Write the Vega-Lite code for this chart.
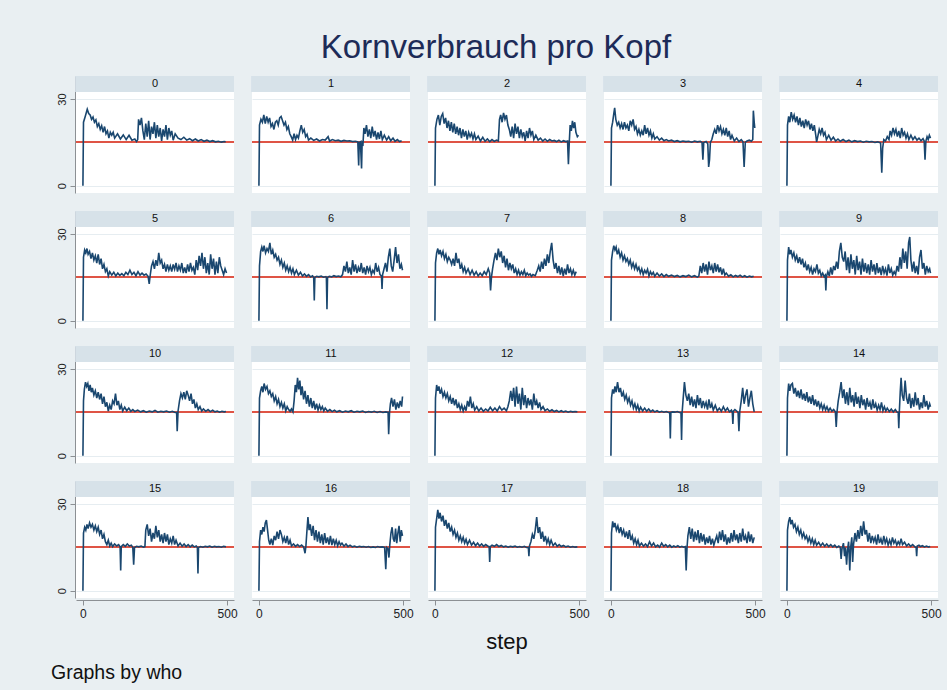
{
"$schema": "https://vega.github.io/schema/vega-lite/v6.json",
"background": "#e9eff2",
"padding": {"left": 50, "top": 32, "right": 5, "bottom": 8},
"title": {"text": "Kornverbrauch pro Kopf", "fontSize": 33, "font": "Liberation Sans", "fontWeight": "normal", "color": "#1d2b58", "anchor": "middle", "offset": 11},
"config": {"view": {"fill": "white", "stroke": null}, "font": "Liberation Sans", "header": {"labels": false, "labelPadding": 0, "labelFontSize": 0}},
"vconcat": [{
"title": {"text": "Graphs by who", "orient": "bottom", "anchor": "start", "fontSize": 19.5, "fontWeight": "normal", "color": "#111111", "offset": 11, "dx": -5},
"data": {"values": [
{"w":0,"s":0,"v":0},{"w":0,"s":2,"v":22},{"w":0,"s":8,"v":24},{"w":0,"s":15,"v":26.5},{"w":0,"s":20,"v":25},{"w":0,"s":25,"v":24.5},{"w":0,"s":30,"v":23},{"w":0,"s":35,"v":23.8},{"w":0,"s":40,"v":22},{"w":0,"s":45,"v":22.8},{"w":0,"s":50,"v":20.5},{"w":0,"s":55,"v":21.5},{"w":0,"s":60,"v":19.5},{"w":0,"s":65,"v":20.8},{"w":0,"s":70,"v":18.5},{"w":0,"s":75,"v":20.5},{"w":0,"s":80,"v":18},{"w":0,"s":85,"v":19},{"w":0,"s":90,"v":16.5},{"w":0,"s":95,"v":18.5},{"w":0,"s":100,"v":17.5},{"w":0,"s":105,"v":18.5},{"w":0,"s":110,"v":16.5},{"w":0,"s":120,"v":18},{"w":0,"s":130,"v":16.2},{"w":0,"s":140,"v":17.6},{"w":0,"s":150,"v":16},{"w":0,"s":160,"v":17.5},{"w":0,"s":170,"v":15.8},{"w":0,"s":180,"v":16.2},{"w":0,"s":186,"v":15.3},{"w":0,"s":190,"v":16},{"w":0,"s":193,"v":23},{"w":0,"s":198,"v":21},{"w":0,"s":203,"v":23.5},{"w":0,"s":208,"v":19},{"w":0,"s":213,"v":16},{"w":0,"s":218,"v":21.5},{"w":0,"s":223,"v":17},{"w":0,"s":228,"v":22.5},{"w":0,"s":233,"v":16},{"w":0,"s":238,"v":20.5},{"w":0,"s":243,"v":18},{"w":0,"s":248,"v":22},{"w":0,"s":253,"v":16.5},{"w":0,"s":258,"v":21},{"w":0,"s":263,"v":17},{"w":0,"s":268,"v":20},{"w":0,"s":273,"v":15.5},{"w":0,"s":278,"v":19.5},{"w":0,"s":283,"v":17},{"w":0,"s":288,"v":21},{"w":0,"s":293,"v":16},{"w":0,"s":298,"v":20},{"w":0,"s":303,"v":17.5},{"w":0,"s":308,"v":19},{"w":0,"s":313,"v":15.8},{"w":0,"s":320,"v":18},{"w":0,"s":330,"v":16.5},{"w":0,"s":340,"v":16},{"w":0,"s":350,"v":16.8},{"w":0,"s":360,"v":15.8},{"w":0,"s":370,"v":16.3},{"w":0,"s":380,"v":15.6},{"w":0,"s":390,"v":16.2},{"w":0,"s":400,"v":15.5},{"w":0,"s":410,"v":16},{"w":0,"s":420,"v":15.4},{"w":0,"s":430,"v":15.8},{"w":0,"s":440,"v":15.3},{"w":0,"s":450,"v":15.6},{"w":0,"s":460,"v":15.2},{"w":0,"s":470,"v":15.4},{"w":0,"s":480,"v":15.1},{"w":0,"s":490,"v":15.3},{"w":0,"s":495,"v":15.2},
{"w":1,"s":0,"v":0},{"w":1,"s":2,"v":21},{"w":1,"s":7,"v":23},{"w":1,"s":12,"v":22},{"w":1,"s":17,"v":24.5},{"w":1,"s":22,"v":21.5},{"w":1,"s":27,"v":24},{"w":1,"s":32,"v":22},{"w":1,"s":37,"v":23.5},{"w":1,"s":42,"v":20.5},{"w":1,"s":47,"v":21.5},{"w":1,"s":52,"v":19.5},{"w":1,"s":57,"v":22},{"w":1,"s":62,"v":22.5},{"w":1,"s":67,"v":21},{"w":1,"s":72,"v":23.5},{"w":1,"s":77,"v":24},{"w":1,"s":82,"v":22.5},{"w":1,"s":87,"v":21},{"w":1,"s":92,"v":22},{"w":1,"s":97,"v":19.5},{"w":1,"s":102,"v":20.5},{"w":1,"s":107,"v":18},{"w":1,"s":112,"v":17},{"w":1,"s":117,"v":15.8},{"w":1,"s":122,"v":18},{"w":1,"s":127,"v":16},{"w":1,"s":132,"v":17.5},{"w":1,"s":137,"v":16.5},{"w":1,"s":142,"v":19},{"w":1,"s":147,"v":21},{"w":1,"s":152,"v":18.5},{"w":1,"s":157,"v":19.5},{"w":1,"s":162,"v":17},{"w":1,"s":167,"v":17.8},{"w":1,"s":172,"v":15.8},{"w":1,"s":180,"v":16.5},{"w":1,"s":190,"v":15.7},{"w":1,"s":200,"v":16.2},{"w":1,"s":210,"v":15.5},{"w":1,"s":220,"v":16},{"w":1,"s":230,"v":15.8},{"w":1,"s":240,"v":17},{"w":1,"s":245,"v":15.5},{"w":1,"s":255,"v":16},{"w":1,"s":265,"v":15.6},{"w":1,"s":275,"v":15.8},{"w":1,"s":285,"v":15.4},{"w":1,"s":295,"v":15.7},{"w":1,"s":305,"v":15.5},{"w":1,"s":315,"v":15.6},{"w":1,"s":325,"v":15.3},{"w":1,"s":335,"v":15.4},{"w":1,"s":343,"v":15.2},{"w":1,"s":346,"v":7},{"w":1,"s":348,"v":15},{"w":1,"s":352,"v":15.2},{"w":1,"s":356,"v":6},{"w":1,"s":358,"v":15},{"w":1,"s":361,"v":14.5},{"w":1,"s":364,"v":20},{"w":1,"s":368,"v":18},{"w":1,"s":373,"v":21},{"w":1,"s":378,"v":17},{"w":1,"s":383,"v":19.5},{"w":1,"s":388,"v":16.5},{"w":1,"s":393,"v":20.5},{"w":1,"s":398,"v":17},{"w":1,"s":403,"v":19},{"w":1,"s":408,"v":16},{"w":1,"s":413,"v":18.5},{"w":1,"s":418,"v":16.2},{"w":1,"s":423,"v":19},{"w":1,"s":428,"v":16},{"w":1,"s":435,"v":17.5},{"w":1,"s":443,"v":15.8},{"w":1,"s":450,"v":17},{"w":1,"s":457,"v":15.6},{"w":1,"s":465,"v":16.5},{"w":1,"s":472,"v":15.4},{"w":1,"s":480,"v":16},{"w":1,"s":488,"v":15.3},{"w":1,"s":495,"v":15.6},
{"w":2,"s":0,"v":0},{"w":2,"s":2,"v":20},{"w":2,"s":7,"v":23},{"w":2,"s":12,"v":24.5},{"w":2,"s":17,"v":21},{"w":2,"s":22,"v":24},{"w":2,"s":27,"v":25},{"w":2,"s":32,"v":21.5},{"w":2,"s":37,"v":23.5},{"w":2,"s":42,"v":20},{"w":2,"s":47,"v":22.5},{"w":2,"s":52,"v":19},{"w":2,"s":57,"v":22},{"w":2,"s":62,"v":18.5},{"w":2,"s":67,"v":21.5},{"w":2,"s":72,"v":18},{"w":2,"s":77,"v":20.5},{"w":2,"s":82,"v":17.5},{"w":2,"s":87,"v":20},{"w":2,"s":92,"v":16.5},{"w":2,"s":97,"v":19.5},{"w":2,"s":102,"v":17},{"w":2,"s":107,"v":19},{"w":2,"s":112,"v":16},{"w":2,"s":117,"v":18.5},{"w":2,"s":122,"v":17},{"w":2,"s":127,"v":18.2},{"w":2,"s":132,"v":16.2},{"w":2,"s":137,"v":18},{"w":2,"s":142,"v":16},{"w":2,"s":150,"v":17.2},{"w":2,"s":158,"v":15.5},{"w":2,"s":166,"v":16.8},{"w":2,"s":174,"v":15.4},{"w":2,"s":182,"v":16.2},{"w":2,"s":190,"v":15.3},{"w":2,"s":198,"v":16},{"w":2,"s":206,"v":15.4},{"w":2,"s":214,"v":15.8},{"w":2,"s":220,"v":15.5},{"w":2,"s":224,"v":23},{"w":2,"s":228,"v":24.5},{"w":2,"s":233,"v":22},{"w":2,"s":238,"v":25.2},{"w":2,"s":243,"v":23},{"w":2,"s":248,"v":24.5},{"w":2,"s":253,"v":21},{"w":2,"s":258,"v":19.5},{"w":2,"s":263,"v":17},{"w":2,"s":268,"v":20.5},{"w":2,"s":273,"v":16.5},{"w":2,"s":278,"v":21.5},{"w":2,"s":283,"v":18},{"w":2,"s":288,"v":20.5},{"w":2,"s":293,"v":16.5},{"w":2,"s":298,"v":19.5},{"w":2,"s":303,"v":17},{"w":2,"s":308,"v":18.5},{"w":2,"s":313,"v":15.5},{"w":2,"s":318,"v":19},{"w":2,"s":323,"v":16.5},{"w":2,"s":328,"v":20},{"w":2,"s":333,"v":17.5},{"w":2,"s":338,"v":19},{"w":2,"s":343,"v":16},{"w":2,"s":350,"v":17.5},{"w":2,"s":358,"v":15.8},{"w":2,"s":366,"v":16.5},{"w":2,"s":374,"v":15.5},{"w":2,"s":382,"v":16.2},{"w":2,"s":390,"v":15.4},{"w":2,"s":398,"v":16},{"w":2,"s":406,"v":15.5},{"w":2,"s":414,"v":15.7},{"w":2,"s":422,"v":15.3},{"w":2,"s":430,"v":15.8},{"w":2,"s":438,"v":15.2},{"w":2,"s":446,"v":15.6},{"w":2,"s":454,"v":15.3},{"w":2,"s":460,"v":15.5},{"w":2,"s":463,"v":7.5},{"w":2,"s":466,"v":15},{"w":2,"s":469,"v":21},{"w":2,"s":473,"v":19},{"w":2,"s":477,"v":22.5},{"w":2,"s":481,"v":20},{"w":2,"s":485,"v":22},{"w":2,"s":489,"v":18.5},{"w":2,"s":494,"v":17},{"w":2,"s":498,"v":17.5},
{"w":3,"s":0,"v":0},{"w":3,"s":2,"v":20},{"w":3,"s":6,"v":22},{"w":3,"s":10,"v":25},{"w":3,"s":13,"v":27},{"w":3,"s":17,"v":23},{"w":3,"s":22,"v":21},{"w":3,"s":27,"v":22},{"w":3,"s":32,"v":20},{"w":3,"s":37,"v":21.5},{"w":3,"s":42,"v":19.5},{"w":3,"s":47,"v":22},{"w":3,"s":52,"v":20},{"w":3,"s":57,"v":21},{"w":3,"s":62,"v":19},{"w":3,"s":67,"v":22.5},{"w":3,"s":72,"v":21},{"w":3,"s":77,"v":23},{"w":3,"s":82,"v":19.5},{"w":3,"s":87,"v":20.5},{"w":3,"s":92,"v":18},{"w":3,"s":97,"v":19.5},{"w":3,"s":102,"v":17.5},{"w":3,"s":107,"v":19},{"w":3,"s":112,"v":17.5},{"w":3,"s":117,"v":21},{"w":3,"s":122,"v":18},{"w":3,"s":127,"v":20},{"w":3,"s":132,"v":17.5},{"w":3,"s":137,"v":19},{"w":3,"s":142,"v":16.5},{"w":3,"s":147,"v":18},{"w":3,"s":152,"v":16.2},{"w":3,"s":160,"v":17},{"w":3,"s":168,"v":15.8},{"w":3,"s":176,"v":16.5},{"w":3,"s":184,"v":15.6},{"w":3,"s":192,"v":16},{"w":3,"s":200,"v":15.5},{"w":3,"s":210,"v":15.8},{"w":3,"s":220,"v":15.3},{"w":3,"s":230,"v":15.6},{"w":3,"s":240,"v":15.2},{"w":3,"s":250,"v":15.5},{"w":3,"s":260,"v":15.3},{"w":3,"s":270,"v":15.4},{"w":3,"s":280,"v":15.1},{"w":3,"s":290,"v":15.5},{"w":3,"s":300,"v":15.2},{"w":3,"s":310,"v":15.4},{"w":3,"s":316,"v":15},{"w":3,"s":319,"v":9},{"w":3,"s":322,"v":15},{"w":3,"s":330,"v":15.3},{"w":3,"s":336,"v":14.5},{"w":3,"s":339,"v":6.5},{"w":3,"s":342,"v":9},{"w":3,"s":345,"v":15},{"w":3,"s":350,"v":16},{"w":3,"s":355,"v":18},{"w":3,"s":360,"v":19.5},{"w":3,"s":365,"v":18},{"w":3,"s":370,"v":21},{"w":3,"s":375,"v":19},{"w":3,"s":380,"v":20.5},{"w":3,"s":385,"v":18},{"w":3,"s":390,"v":19.5},{"w":3,"s":395,"v":17.5},{"w":3,"s":400,"v":20},{"w":3,"s":405,"v":17},{"w":3,"s":410,"v":19},{"w":3,"s":415,"v":16},{"w":3,"s":420,"v":17.5},{"w":3,"s":428,"v":15.5},{"w":3,"s":436,"v":16.5},{"w":3,"s":444,"v":15.3},{"w":3,"s":452,"v":16},{"w":3,"s":458,"v":15.2},{"w":3,"s":462,"v":6.5},{"w":3,"s":466,"v":15},{"w":3,"s":472,"v":15.5},{"w":3,"s":480,"v":15.8},{"w":3,"s":487,"v":15.4},{"w":3,"s":492,"v":16},{"w":3,"s":494,"v":26},{"w":3,"s":497,"v":22},{"w":3,"s":499,"v":20},
{"w":4,"s":0,"v":0},{"w":4,"s":2,"v":21},{"w":4,"s":6,"v":24},{"w":4,"s":10,"v":22},{"w":4,"s":15,"v":25.5},{"w":4,"s":20,"v":23},{"w":4,"s":25,"v":24.5},{"w":4,"s":30,"v":22},{"w":4,"s":35,"v":24},{"w":4,"s":40,"v":21},{"w":4,"s":45,"v":23.5},{"w":4,"s":50,"v":20.5},{"w":4,"s":55,"v":22.5},{"w":4,"s":60,"v":20},{"w":4,"s":65,"v":23},{"w":4,"s":70,"v":21},{"w":4,"s":75,"v":22.5},{"w":4,"s":80,"v":19.5},{"w":4,"s":85,"v":21.5},{"w":4,"s":90,"v":19},{"w":4,"s":95,"v":21},{"w":4,"s":100,"v":17.5},{"w":4,"s":103,"v":15.2},{"w":4,"s":107,"v":17},{"w":4,"s":112,"v":19.5},{"w":4,"s":117,"v":18},{"w":4,"s":122,"v":20},{"w":4,"s":127,"v":17.5},{"w":4,"s":132,"v":18.5},{"w":4,"s":137,"v":16},{"w":4,"s":145,"v":17.5},{"w":4,"s":153,"v":15.8},{"w":4,"s":161,"v":16.8},{"w":4,"s":169,"v":15.5},{"w":4,"s":177,"v":16.2},{"w":4,"s":185,"v":15.4},{"w":4,"s":195,"v":16},{"w":4,"s":205,"v":15.3},{"w":4,"s":215,"v":15.8},{"w":4,"s":225,"v":15.2},{"w":4,"s":235,"v":15.6},{"w":4,"s":245,"v":15.3},{"w":4,"s":255,"v":15.5},{"w":4,"s":265,"v":15.1},{"w":4,"s":275,"v":15.4},{"w":4,"s":285,"v":15.2},{"w":4,"s":295,"v":15.3},{"w":4,"s":305,"v":15},{"w":4,"s":315,"v":15.2},{"w":4,"s":325,"v":14.8},{"w":4,"s":329,"v":4.5},{"w":4,"s":332,"v":13},{"w":4,"s":336,"v":16},{"w":4,"s":342,"v":15.5},{"w":4,"s":348,"v":17},{"w":4,"s":354,"v":16},{"w":4,"s":358,"v":19},{"w":4,"s":363,"v":17.5},{"w":4,"s":368,"v":20},{"w":4,"s":373,"v":18},{"w":4,"s":378,"v":19.5},{"w":4,"s":383,"v":17},{"w":4,"s":388,"v":19},{"w":4,"s":393,"v":16.5},{"w":4,"s":398,"v":20},{"w":4,"s":403,"v":17.5},{"w":4,"s":408,"v":18.5},{"w":4,"s":413,"v":16.5},{"w":4,"s":418,"v":18},{"w":4,"s":423,"v":16},{"w":4,"s":430,"v":17.5},{"w":4,"s":437,"v":16},{"w":4,"s":444,"v":17},{"w":4,"s":451,"v":15.8},{"w":4,"s":458,"v":16.5},{"w":4,"s":465,"v":15.6},{"w":4,"s":472,"v":16.3},{"w":4,"s":476,"v":15.5},{"w":4,"s":479,"v":9},{"w":4,"s":482,"v":15.5},{"w":4,"s":486,"v":17},{"w":4,"s":490,"v":16},{"w":4,"s":494,"v":17.5},{"w":4,"s":498,"v":16.5},
{"w":5,"s":0,"v":0},{"w":5,"s":2,"v":22},{"w":5,"s":6,"v":24.5},{"w":5,"s":10,"v":23.5},{"w":5,"s":14,"v":25},{"w":5,"s":18,"v":23},{"w":5,"s":23,"v":24},{"w":5,"s":28,"v":21.5},{"w":5,"s":33,"v":23.5},{"w":5,"s":38,"v":21},{"w":5,"s":43,"v":22.5},{"w":5,"s":48,"v":20},{"w":5,"s":53,"v":23},{"w":5,"s":58,"v":19.5},{"w":5,"s":63,"v":21.5},{"w":5,"s":68,"v":18},{"w":5,"s":73,"v":19.5},{"w":5,"s":78,"v":17},{"w":5,"s":83,"v":18},{"w":5,"s":88,"v":15.5},{"w":5,"s":93,"v":17},{"w":5,"s":100,"v":15.8},{"w":5,"s":107,"v":16.8},{"w":5,"s":114,"v":15.5},{"w":5,"s":121,"v":16.5},{"w":5,"s":128,"v":15.7},{"w":5,"s":135,"v":16.3},{"w":5,"s":142,"v":15.6},{"w":5,"s":149,"v":16.8},{"w":5,"s":156,"v":16},{"w":5,"s":163,"v":17.5},{"w":5,"s":170,"v":16},{"w":5,"s":177,"v":16.8},{"w":5,"s":184,"v":15.6},{"w":5,"s":191,"v":17},{"w":5,"s":198,"v":15.8},{"w":5,"s":205,"v":16.5},{"w":5,"s":212,"v":15.8},{"w":5,"s":219,"v":16.2},{"w":5,"s":226,"v":15.4},{"w":5,"s":230,"v":12.8},{"w":5,"s":233,"v":15.5},{"w":5,"s":238,"v":19},{"w":5,"s":243,"v":20.5},{"w":5,"s":248,"v":18},{"w":5,"s":253,"v":21},{"w":5,"s":258,"v":19},{"w":5,"s":263,"v":23.5},{"w":5,"s":268,"v":20},{"w":5,"s":273,"v":21},{"w":5,"s":278,"v":18},{"w":5,"s":283,"v":19.5},{"w":5,"s":288,"v":17},{"w":5,"s":293,"v":19.5},{"w":5,"s":298,"v":17.5},{"w":5,"s":303,"v":19},{"w":5,"s":308,"v":17},{"w":5,"s":313,"v":19.5},{"w":5,"s":318,"v":17.8},{"w":5,"s":323,"v":20},{"w":5,"s":328,"v":17},{"w":5,"s":333,"v":19},{"w":5,"s":338,"v":17.5},{"w":5,"s":343,"v":20},{"w":5,"s":348,"v":16.5},{"w":5,"s":353,"v":18.5},{"w":5,"s":358,"v":16.5},{"w":5,"s":363,"v":19.5},{"w":5,"s":368,"v":17},{"w":5,"s":373,"v":20},{"w":5,"s":378,"v":17.5},{"w":5,"s":383,"v":18.5},{"w":5,"s":388,"v":16},{"w":5,"s":393,"v":21},{"w":5,"s":398,"v":17.5},{"w":5,"s":403,"v":22.5},{"w":5,"s":408,"v":19},{"w":5,"s":413,"v":23.5},{"w":5,"s":418,"v":18},{"w":5,"s":423,"v":22},{"w":5,"s":428,"v":16.5},{"w":5,"s":433,"v":20},{"w":5,"s":438,"v":16},{"w":5,"s":443,"v":23},{"w":5,"s":448,"v":18},{"w":5,"s":453,"v":21.5},{"w":5,"s":458,"v":16},{"w":5,"s":463,"v":20.5},{"w":5,"s":468,"v":16.5},{"w":5,"s":473,"v":22},{"w":5,"s":478,"v":19},{"w":5,"s":483,"v":17.5},{"w":5,"s":488,"v":16},{"w":5,"s":493,"v":18},{"w":5,"s":498,"v":16.5},
{"w":6,"s":0,"v":0},{"w":6,"s":2,"v":19},{"w":6,"s":6,"v":24},{"w":6,"s":10,"v":25.5},{"w":6,"s":14,"v":24},{"w":6,"s":18,"v":26},{"w":6,"s":23,"v":23.5},{"w":6,"s":28,"v":25},{"w":6,"s":33,"v":24},{"w":6,"s":38,"v":27},{"w":6,"s":43,"v":23},{"w":6,"s":48,"v":24.5},{"w":6,"s":53,"v":22},{"w":6,"s":58,"v":23},{"w":6,"s":63,"v":21},{"w":6,"s":68,"v":22},{"w":6,"s":73,"v":19.5},{"w":6,"s":78,"v":21},{"w":6,"s":83,"v":18.5},{"w":6,"s":88,"v":20},{"w":6,"s":93,"v":17.5},{"w":6,"s":98,"v":19},{"w":6,"s":103,"v":17},{"w":6,"s":108,"v":18.5},{"w":6,"s":113,"v":16.5},{"w":6,"s":118,"v":18},{"w":6,"s":123,"v":16},{"w":6,"s":130,"v":17.5},{"w":6,"s":137,"v":15.8},{"w":6,"s":144,"v":16.8},{"w":6,"s":151,"v":15.5},{"w":6,"s":158,"v":16.2},{"w":6,"s":165,"v":15.4},{"w":6,"s":172,"v":16},{"w":6,"s":179,"v":15.2},{"w":6,"s":186,"v":15.6},{"w":6,"s":190,"v":15},{"w":6,"s":192,"v":7},{"w":6,"s":194,"v":15},{"w":6,"s":200,"v":15.4},{"w":6,"s":208,"v":15.2},{"w":6,"s":216,"v":15.5},{"w":6,"s":224,"v":15.1},{"w":6,"s":232,"v":15.3},{"w":6,"s":234,"v":15},{"w":6,"s":236,"v":4},{"w":6,"s":238,"v":15},{"w":6,"s":244,"v":15.4},{"w":6,"s":252,"v":15.2},{"w":6,"s":260,"v":15.6},{"w":6,"s":268,"v":15.3},{"w":6,"s":276,"v":15.5},{"w":6,"s":284,"v":15.2},{"w":6,"s":290,"v":16},{"w":6,"s":295,"v":19},{"w":6,"s":300,"v":17},{"w":6,"s":305,"v":20.5},{"w":6,"s":310,"v":16.5},{"w":6,"s":315,"v":18.5},{"w":6,"s":320,"v":16},{"w":6,"s":325,"v":21},{"w":6,"s":330,"v":17},{"w":6,"s":335,"v":19.5},{"w":6,"s":340,"v":16.5},{"w":6,"s":345,"v":18.5},{"w":6,"s":350,"v":17},{"w":6,"s":355,"v":20},{"w":6,"s":360,"v":16.5},{"w":6,"s":365,"v":18.5},{"w":6,"s":370,"v":16},{"w":6,"s":375,"v":19},{"w":6,"s":380,"v":17},{"w":6,"s":385,"v":18.5},{"w":6,"s":390,"v":16},{"w":6,"s":395,"v":17.5},{"w":6,"s":400,"v":16.5},{"w":6,"s":405,"v":20},{"w":6,"s":410,"v":17},{"w":6,"s":415,"v":18.5},{"w":6,"s":420,"v":16},{"w":6,"s":425,"v":15.5},{"w":6,"s":427,"v":11},{"w":6,"s":429,"v":16},{"w":6,"s":434,"v":18},{"w":6,"s":439,"v":20},{"w":6,"s":444,"v":17},{"w":6,"s":449,"v":22},{"w":6,"s":454,"v":25},{"w":6,"s":459,"v":19},{"w":6,"s":464,"v":17},{"w":6,"s":469,"v":21},{"w":6,"s":474,"v":25.5},{"w":6,"s":479,"v":20},{"w":6,"s":484,"v":23},{"w":6,"s":489,"v":18},{"w":6,"s":494,"v":19.5},{"w":6,"s":498,"v":17.5},
{"w":7,"s":0,"v":0},{"w":7,"s":2,"v":20},{"w":7,"s":6,"v":23.5},{"w":7,"s":10,"v":25},{"w":7,"s":14,"v":23},{"w":7,"s":18,"v":24.5},{"w":7,"s":23,"v":22.5},{"w":7,"s":28,"v":24},{"w":7,"s":33,"v":21.5},{"w":7,"s":38,"v":23},{"w":7,"s":43,"v":20.5},{"w":7,"s":48,"v":22},{"w":7,"s":53,"v":21},{"w":7,"s":58,"v":19.5},{"w":7,"s":63,"v":21.5},{"w":7,"s":68,"v":19},{"w":7,"s":73,"v":23.5},{"w":7,"s":78,"v":20},{"w":7,"s":83,"v":21.5},{"w":7,"s":88,"v":18},{"w":7,"s":93,"v":19.5},{"w":7,"s":98,"v":17},{"w":7,"s":103,"v":18.5},{"w":7,"s":108,"v":16.5},{"w":7,"s":115,"v":18},{"w":7,"s":122,"v":16},{"w":7,"s":129,"v":17.5},{"w":7,"s":136,"v":15.8},{"w":7,"s":143,"v":17},{"w":7,"s":150,"v":15.5},{"w":7,"s":157,"v":16.5},{"w":7,"s":164,"v":15.6},{"w":7,"s":171,"v":17},{"w":7,"s":178,"v":16},{"w":7,"s":185,"v":18},{"w":7,"s":190,"v":16.5},{"w":7,"s":193,"v":10.5},{"w":7,"s":196,"v":15},{"w":7,"s":200,"v":18},{"w":7,"s":205,"v":21},{"w":7,"s":210,"v":23.5},{"w":7,"s":215,"v":21},{"w":7,"s":220,"v":25},{"w":7,"s":225,"v":22},{"w":7,"s":230,"v":24},{"w":7,"s":235,"v":20},{"w":7,"s":240,"v":22.5},{"w":7,"s":245,"v":18.5},{"w":7,"s":250,"v":21.5},{"w":7,"s":255,"v":17.5},{"w":7,"s":260,"v":20},{"w":7,"s":265,"v":18},{"w":7,"s":270,"v":19.5},{"w":7,"s":275,"v":16.5},{"w":7,"s":280,"v":18},{"w":7,"s":285,"v":16},{"w":7,"s":290,"v":17.5},{"w":7,"s":295,"v":15.8},{"w":7,"s":300,"v":17},{"w":7,"s":305,"v":16},{"w":7,"s":310,"v":17.5},{"w":7,"s":315,"v":15.6},{"w":7,"s":320,"v":16.5},{"w":7,"s":325,"v":15.8},{"w":7,"s":330,"v":16.2},{"w":7,"s":335,"v":15.4},{"w":7,"s":340,"v":16},{"w":7,"s":348,"v":15.6},{"w":7,"s":355,"v":17.5},{"w":7,"s":360,"v":19},{"w":7,"s":365,"v":17},{"w":7,"s":370,"v":20.5},{"w":7,"s":375,"v":18},{"w":7,"s":380,"v":21.5},{"w":7,"s":385,"v":19},{"w":7,"s":390,"v":23},{"w":7,"s":395,"v":20},{"w":7,"s":400,"v":24},{"w":7,"s":405,"v":27},{"w":7,"s":410,"v":21},{"w":7,"s":415,"v":18},{"w":7,"s":420,"v":20},{"w":7,"s":425,"v":16.5},{"w":7,"s":430,"v":19},{"w":7,"s":435,"v":16},{"w":7,"s":440,"v":18.5},{"w":7,"s":445,"v":15.5},{"w":7,"s":450,"v":18},{"w":7,"s":455,"v":16},{"w":7,"s":460,"v":19.5},{"w":7,"s":465,"v":16.5},{"w":7,"s":470,"v":18},{"w":7,"s":475,"v":16},{"w":7,"s":480,"v":17.5},{"w":7,"s":485,"v":15.8},{"w":7,"s":490,"v":17},
{"w":8,"s":0,"v":0},{"w":8,"s":2,"v":21},{"w":8,"s":6,"v":24},{"w":8,"s":10,"v":26},{"w":8,"s":14,"v":24.5},{"w":8,"s":18,"v":25.5},{"w":8,"s":22,"v":23},{"w":8,"s":27,"v":24.5},{"w":8,"s":32,"v":22},{"w":8,"s":37,"v":23.5},{"w":8,"s":42,"v":21},{"w":8,"s":47,"v":22.5},{"w":8,"s":52,"v":20.5},{"w":8,"s":57,"v":21.5},{"w":8,"s":62,"v":19.5},{"w":8,"s":67,"v":21},{"w":8,"s":72,"v":18.5},{"w":8,"s":77,"v":20},{"w":8,"s":82,"v":18},{"w":8,"s":87,"v":19.5},{"w":8,"s":92,"v":17.5},{"w":8,"s":97,"v":18.5},{"w":8,"s":102,"v":16.5},{"w":8,"s":107,"v":18},{"w":8,"s":112,"v":16},{"w":8,"s":117,"v":17.5},{"w":8,"s":122,"v":16.5},{"w":8,"s":127,"v":17.8},{"w":8,"s":132,"v":15.5},{"w":8,"s":137,"v":17},{"w":8,"s":142,"v":16},{"w":8,"s":147,"v":16.8},{"w":8,"s":152,"v":15.4},{"w":8,"s":160,"v":16.5},{"w":8,"s":168,"v":15.5},{"w":8,"s":176,"v":16.2},{"w":8,"s":184,"v":15.3},{"w":8,"s":192,"v":16},{"w":8,"s":200,"v":15.4},{"w":8,"s":210,"v":15.8},{"w":8,"s":220,"v":15.3},{"w":8,"s":230,"v":15.7},{"w":8,"s":240,"v":15.2},{"w":8,"s":250,"v":15.6},{"w":8,"s":260,"v":15.3},{"w":8,"s":270,"v":15.8},{"w":8,"s":280,"v":15.2},{"w":8,"s":290,"v":15.6},{"w":8,"s":300,"v":15.1},{"w":8,"s":305,"v":15.5},{"w":8,"s":310,"v":19},{"w":8,"s":315,"v":16.5},{"w":8,"s":320,"v":20},{"w":8,"s":325,"v":17},{"w":8,"s":330,"v":19.5},{"w":8,"s":335,"v":16},{"w":8,"s":340,"v":20.5},{"w":8,"s":345,"v":17.5},{"w":8,"s":350,"v":19},{"w":8,"s":355,"v":16.5},{"w":8,"s":360,"v":20},{"w":8,"s":365,"v":17},{"w":8,"s":370,"v":19.5},{"w":8,"s":375,"v":16.8},{"w":8,"s":380,"v":18.5},{"w":8,"s":385,"v":16},{"w":8,"s":390,"v":18},{"w":8,"s":395,"v":15.8},{"w":8,"s":400,"v":16.5},{"w":8,"s":408,"v":15.4},{"w":8,"s":416,"v":15.9},{"w":8,"s":424,"v":15.2},{"w":8,"s":432,"v":15.7},{"w":8,"s":440,"v":15.3},{"w":8,"s":448,"v":15.8},{"w":8,"s":456,"v":15.2},{"w":8,"s":464,"v":15.6},{"w":8,"s":472,"v":15.1},{"w":8,"s":480,"v":15.5},{"w":8,"s":488,"v":15.2},{"w":8,"s":495,"v":15.4},
{"w":9,"s":0,"v":0},{"w":9,"s":2,"v":21},{"w":9,"s":6,"v":25.5},{"w":9,"s":10,"v":23},{"w":9,"s":14,"v":24.5},{"w":9,"s":19,"v":22},{"w":9,"s":24,"v":23.5},{"w":9,"s":29,"v":21},{"w":9,"s":34,"v":22.5},{"w":9,"s":39,"v":20},{"w":9,"s":44,"v":22},{"w":9,"s":49,"v":19.5},{"w":9,"s":54,"v":21.5},{"w":9,"s":59,"v":18.5},{"w":9,"s":64,"v":20},{"w":9,"s":69,"v":17.5},{"w":9,"s":74,"v":19.5},{"w":9,"s":79,"v":17},{"w":9,"s":84,"v":18.5},{"w":9,"s":89,"v":16},{"w":9,"s":94,"v":18},{"w":9,"s":99,"v":17},{"w":9,"s":104,"v":19.5},{"w":9,"s":109,"v":16.5},{"w":9,"s":114,"v":17.5},{"w":9,"s":119,"v":15.5},{"w":9,"s":124,"v":16.5},{"w":9,"s":129,"v":15.3},{"w":9,"s":133,"v":15.8},{"w":9,"s":135,"v":10.5},{"w":9,"s":137,"v":15.2},{"w":9,"s":142,"v":17},{"w":9,"s":147,"v":15.5},{"w":9,"s":152,"v":18.5},{"w":9,"s":157,"v":16},{"w":9,"s":162,"v":19},{"w":9,"s":167,"v":17.5},{"w":9,"s":172,"v":20.5},{"w":9,"s":177,"v":18},{"w":9,"s":182,"v":24},{"w":9,"s":187,"v":27},{"w":9,"s":192,"v":22},{"w":9,"s":197,"v":20.5},{"w":9,"s":202,"v":24},{"w":9,"s":207,"v":17.5},{"w":9,"s":212,"v":22},{"w":9,"s":217,"v":16.5},{"w":9,"s":222,"v":23},{"w":9,"s":227,"v":18},{"w":9,"s":232,"v":21},{"w":9,"s":237,"v":16},{"w":9,"s":242,"v":22.5},{"w":9,"s":247,"v":17.5},{"w":9,"s":252,"v":20.5},{"w":9,"s":257,"v":16},{"w":9,"s":262,"v":21.5},{"w":9,"s":267,"v":17},{"w":9,"s":272,"v":20},{"w":9,"s":277,"v":16.5},{"w":9,"s":282,"v":19.5},{"w":9,"s":287,"v":16},{"w":9,"s":292,"v":21},{"w":9,"s":297,"v":17},{"w":9,"s":302,"v":19.5},{"w":9,"s":307,"v":16},{"w":9,"s":312,"v":20},{"w":9,"s":317,"v":16.5},{"w":9,"s":322,"v":18.5},{"w":9,"s":327,"v":15.8},{"w":9,"s":332,"v":19},{"w":9,"s":337,"v":16.5},{"w":9,"s":342,"v":18},{"w":9,"s":347,"v":15.6},{"w":9,"s":352,"v":19.5},{"w":9,"s":357,"v":16.5},{"w":9,"s":362,"v":18},{"w":9,"s":367,"v":15.8},{"w":9,"s":372,"v":17},{"w":9,"s":377,"v":16},{"w":9,"s":382,"v":19},{"w":9,"s":387,"v":17},{"w":9,"s":392,"v":22},{"w":9,"s":397,"v":18},{"w":9,"s":402,"v":25},{"w":9,"s":407,"v":20},{"w":9,"s":412,"v":24},{"w":9,"s":417,"v":18},{"w":9,"s":422,"v":27},{"w":9,"s":426,"v":29},{"w":9,"s":430,"v":21},{"w":9,"s":435,"v":17},{"w":9,"s":440,"v":20.5},{"w":9,"s":445,"v":16.5},{"w":9,"s":450,"v":19},{"w":9,"s":455,"v":16},{"w":9,"s":460,"v":22},{"w":9,"s":465,"v":24.5},{"w":9,"s":470,"v":18},{"w":9,"s":475,"v":20},{"w":9,"s":480,"v":16},{"w":9,"s":485,"v":19},{"w":9,"s":490,"v":17},{"w":9,"s":495,"v":18},{"w":9,"s":498,"v":16.5},
{"w":10,"s":0,"v":0},{"w":10,"s":2,"v":19},{"w":10,"s":5,"v":23},{"w":10,"s":9,"v":25.5},{"w":10,"s":13,"v":24},{"w":10,"s":17,"v":25},{"w":10,"s":21,"v":22.5},{"w":10,"s":25,"v":24.5},{"w":10,"s":29,"v":22},{"w":10,"s":33,"v":23.5},{"w":10,"s":38,"v":21},{"w":10,"s":43,"v":22.5},{"w":10,"s":48,"v":20},{"w":10,"s":53,"v":22},{"w":10,"s":58,"v":19.5},{"w":10,"s":63,"v":21.5},{"w":10,"s":68,"v":18},{"w":10,"s":73,"v":20.5},{"w":10,"s":78,"v":17},{"w":10,"s":83,"v":18.5},{"w":10,"s":88,"v":15.5},{"w":10,"s":93,"v":17.5},{"w":10,"s":98,"v":16},{"w":10,"s":103,"v":19},{"w":10,"s":108,"v":18},{"w":10,"s":113,"v":21.5},{"w":10,"s":118,"v":17.5},{"w":10,"s":123,"v":19},{"w":10,"s":128,"v":16},{"w":10,"s":133,"v":17.5},{"w":10,"s":138,"v":15.5},{"w":10,"s":145,"v":16.8},{"w":10,"s":152,"v":15.6},{"w":10,"s":159,"v":16.5},{"w":10,"s":166,"v":15.4},{"w":10,"s":173,"v":16},{"w":10,"s":180,"v":15.3},{"w":10,"s":190,"v":15.8},{"w":10,"s":200,"v":15.2},{"w":10,"s":210,"v":15.6},{"w":10,"s":220,"v":15.1},{"w":10,"s":230,"v":15.5},{"w":10,"s":240,"v":15.2},{"w":10,"s":250,"v":15.7},{"w":10,"s":260,"v":15.1},{"w":10,"s":270,"v":15.4},{"w":10,"s":280,"v":15.2},{"w":10,"s":290,"v":15.5},{"w":10,"s":300,"v":15.1},{"w":10,"s":310,"v":15.4},{"w":10,"s":320,"v":15},{"w":10,"s":325,"v":15},{"w":10,"s":327,"v":8.5},{"w":10,"s":330,"v":15.5},{"w":10,"s":335,"v":19},{"w":10,"s":340,"v":21.5},{"w":10,"s":345,"v":20},{"w":10,"s":350,"v":22},{"w":10,"s":355,"v":19.5},{"w":10,"s":360,"v":22.5},{"w":10,"s":365,"v":21},{"w":10,"s":370,"v":19},{"w":10,"s":375,"v":21.5},{"w":10,"s":380,"v":18},{"w":10,"s":385,"v":19.5},{"w":10,"s":390,"v":16.5},{"w":10,"s":395,"v":18},{"w":10,"s":400,"v":16},{"w":10,"s":406,"v":17},{"w":10,"s":412,"v":15.5},{"w":10,"s":418,"v":16.2},{"w":10,"s":426,"v":15.4},{"w":10,"s":434,"v":16},{"w":10,"s":442,"v":15.3},{"w":10,"s":450,"v":15.8},{"w":10,"s":458,"v":15.2},{"w":10,"s":466,"v":15.5},{"w":10,"s":474,"v":15.1},{"w":10,"s":482,"v":15.4},{"w":10,"s":490,"v":15.2},{"w":10,"s":496,"v":15.3},
{"w":11,"s":0,"v":0},{"w":11,"s":2,"v":20},{"w":11,"s":6,"v":22.5},{"w":11,"s":10,"v":24},{"w":11,"s":14,"v":22},{"w":11,"s":18,"v":25},{"w":11,"s":23,"v":23},{"w":11,"s":28,"v":24},{"w":11,"s":33,"v":21.5},{"w":11,"s":38,"v":22.5},{"w":11,"s":43,"v":20.5},{"w":11,"s":48,"v":21.5},{"w":11,"s":53,"v":19},{"w":11,"s":58,"v":20.5},{"w":11,"s":63,"v":18},{"w":11,"s":68,"v":19.5},{"w":11,"s":73,"v":17},{"w":11,"s":78,"v":18.5},{"w":11,"s":83,"v":16.5},{"w":11,"s":88,"v":18},{"w":11,"s":93,"v":15.5},{"w":11,"s":98,"v":17},{"w":11,"s":103,"v":16},{"w":11,"s":108,"v":15.4},{"w":11,"s":113,"v":16.2},{"w":11,"s":118,"v":15.2},{"w":11,"s":122,"v":19},{"w":11,"s":126,"v":24.5},{"w":11,"s":130,"v":22},{"w":11,"s":134,"v":27},{"w":11,"s":138,"v":23},{"w":11,"s":142,"v":26},{"w":11,"s":146,"v":21},{"w":11,"s":150,"v":24},{"w":11,"s":155,"v":19.5},{"w":11,"s":160,"v":22.5},{"w":11,"s":165,"v":18},{"w":11,"s":170,"v":21},{"w":11,"s":175,"v":17},{"w":11,"s":180,"v":20},{"w":11,"s":185,"v":16.5},{"w":11,"s":190,"v":19},{"w":11,"s":195,"v":16},{"w":11,"s":200,"v":18},{"w":11,"s":205,"v":15.8},{"w":11,"s":210,"v":17.5},{"w":11,"s":215,"v":16},{"w":11,"s":220,"v":17},{"w":11,"s":225,"v":15.5},{"w":11,"s":230,"v":16.5},{"w":11,"s":238,"v":15.4},{"w":11,"s":246,"v":16},{"w":11,"s":254,"v":15.3},{"w":11,"s":262,"v":15.8},{"w":11,"s":270,"v":15.2},{"w":11,"s":280,"v":15.6},{"w":11,"s":290,"v":15.1},{"w":11,"s":300,"v":15.5},{"w":11,"s":310,"v":15.2},{"w":11,"s":320,"v":15.6},{"w":11,"s":330,"v":15.1},{"w":11,"s":340,"v":15.4},{"w":11,"s":350,"v":15.2},{"w":11,"s":360,"v":15.5},{"w":11,"s":370,"v":15},{"w":11,"s":380,"v":15.3},{"w":11,"s":390,"v":15.1},{"w":11,"s":400,"v":15.4},{"w":11,"s":410,"v":15},{"w":11,"s":420,"v":15.3},{"w":11,"s":430,"v":15},{"w":11,"s":440,"v":15.2},{"w":11,"s":448,"v":15},{"w":11,"s":450,"v":7.5},{"w":11,"s":453,"v":15},{"w":11,"s":456,"v":18},{"w":11,"s":460,"v":20},{"w":11,"s":465,"v":17},{"w":11,"s":470,"v":19.5},{"w":11,"s":475,"v":16},{"w":11,"s":480,"v":18.5},{"w":11,"s":485,"v":16.5},{"w":11,"s":490,"v":19},{"w":11,"s":495,"v":17},{"w":11,"s":498,"v":20.5},
{"w":12,"s":0,"v":0},{"w":12,"s":2,"v":20},{"w":12,"s":6,"v":24.5},{"w":12,"s":10,"v":22.5},{"w":12,"s":14,"v":24},{"w":12,"s":18,"v":21.5},{"w":12,"s":23,"v":23},{"w":12,"s":28,"v":20.5},{"w":12,"s":33,"v":22},{"w":12,"s":38,"v":20},{"w":12,"s":43,"v":21.5},{"w":12,"s":48,"v":19},{"w":12,"s":53,"v":20.5},{"w":12,"s":58,"v":18},{"w":12,"s":63,"v":20},{"w":12,"s":68,"v":17.5},{"w":12,"s":73,"v":19.5},{"w":12,"s":78,"v":16.5},{"w":12,"s":83,"v":18},{"w":12,"s":88,"v":16},{"w":12,"s":93,"v":17.5},{"w":12,"s":98,"v":15.5},{"w":12,"s":103,"v":17},{"w":12,"s":108,"v":15.6},{"w":12,"s":113,"v":19},{"w":12,"s":118,"v":17},{"w":12,"s":123,"v":20.5},{"w":12,"s":128,"v":16.5},{"w":12,"s":133,"v":18},{"w":12,"s":138,"v":15.8},{"w":12,"s":145,"v":17},{"w":12,"s":152,"v":15.5},{"w":12,"s":160,"v":16.5},{"w":12,"s":168,"v":15.4},{"w":12,"s":176,"v":16.2},{"w":12,"s":184,"v":15.5},{"w":12,"s":192,"v":16.8},{"w":12,"s":200,"v":15.6},{"w":12,"s":208,"v":16.5},{"w":12,"s":216,"v":15.5},{"w":12,"s":224,"v":17},{"w":12,"s":232,"v":15.8},{"w":12,"s":240,"v":16.5},{"w":12,"s":248,"v":15.6},{"w":12,"s":253,"v":17},{"w":12,"s":258,"v":19},{"w":12,"s":263,"v":22.5},{"w":12,"s":268,"v":19},{"w":12,"s":273,"v":23.5},{"w":12,"s":278,"v":17},{"w":12,"s":283,"v":24},{"w":12,"s":288,"v":18},{"w":12,"s":293,"v":21.5},{"w":12,"s":298,"v":16},{"w":12,"s":303,"v":23.5},{"w":12,"s":308,"v":17.5},{"w":12,"s":313,"v":21},{"w":12,"s":318,"v":16.5},{"w":12,"s":323,"v":20},{"w":12,"s":328,"v":17.5},{"w":12,"s":333,"v":19.5},{"w":12,"s":338,"v":16},{"w":12,"s":343,"v":21.5},{"w":12,"s":348,"v":17.5},{"w":12,"s":353,"v":19},{"w":12,"s":358,"v":16.5},{"w":12,"s":363,"v":18.5},{"w":12,"s":368,"v":16},{"w":12,"s":375,"v":17},{"w":12,"s":382,"v":15.6},{"w":12,"s":390,"v":16.2},{"w":12,"s":398,"v":15.4},{"w":12,"s":406,"v":15.9},{"w":12,"s":414,"v":15.3},{"w":12,"s":422,"v":15.7},{"w":12,"s":430,"v":15.2},{"w":12,"s":438,"v":15.6},{"w":12,"s":446,"v":15.2},{"w":12,"s":454,"v":15.5},{"w":12,"s":462,"v":15.1},{"w":12,"s":470,"v":15.4},{"w":12,"s":478,"v":15.2},{"w":12,"s":486,"v":15.3},{"w":12,"s":494,"v":15.2},
{"w":13,"s":0,"v":0},{"w":13,"s":2,"v":20},{"w":13,"s":6,"v":23},{"w":13,"s":10,"v":21.5},{"w":13,"s":14,"v":24},{"w":13,"s":18,"v":22},{"w":13,"s":23,"v":25.5},{"w":13,"s":28,"v":22},{"w":13,"s":33,"v":23.5},{"w":13,"s":38,"v":20.5},{"w":13,"s":43,"v":22},{"w":13,"s":48,"v":19.5},{"w":13,"s":53,"v":21},{"w":13,"s":58,"v":18.5},{"w":13,"s":63,"v":20},{"w":13,"s":68,"v":17.5},{"w":13,"s":73,"v":19},{"w":13,"s":78,"v":16.5},{"w":13,"s":83,"v":18},{"w":13,"s":88,"v":16},{"w":13,"s":93,"v":17.5},{"w":13,"s":98,"v":15.5},{"w":13,"s":103,"v":16.8},{"w":13,"s":110,"v":15.5},{"w":13,"s":117,"v":16.5},{"w":13,"s":124,"v":15.4},{"w":13,"s":131,"v":16.2},{"w":13,"s":138,"v":15.3},{"w":13,"s":145,"v":15.8},{"w":13,"s":152,"v":15.2},{"w":13,"s":160,"v":15.6},{"w":13,"s":168,"v":15.1},{"w":13,"s":176,"v":15.4},{"w":13,"s":184,"v":15.1},{"w":13,"s":192,"v":15.3},{"w":13,"s":200,"v":15},{"w":13,"s":204,"v":15},{"w":13,"s":206,"v":6},{"w":13,"s":208,"v":15},{"w":13,"s":214,"v":15.2},{"w":13,"s":222,"v":15.1},{"w":13,"s":230,"v":15.3},{"w":13,"s":238,"v":15},{"w":13,"s":243,"v":15},{"w":13,"s":245,"v":5.5},{"w":13,"s":247,"v":15},{"w":13,"s":250,"v":19},{"w":13,"s":255,"v":25.5},{"w":13,"s":260,"v":21},{"w":13,"s":265,"v":19},{"w":13,"s":270,"v":21.5},{"w":13,"s":275,"v":17.5},{"w":13,"s":280,"v":20.5},{"w":13,"s":285,"v":17},{"w":13,"s":290,"v":19.5},{"w":13,"s":295,"v":16.5},{"w":13,"s":300,"v":21},{"w":13,"s":305,"v":17.5},{"w":13,"s":310,"v":20},{"w":13,"s":315,"v":16.5},{"w":13,"s":320,"v":19},{"w":13,"s":325,"v":17},{"w":13,"s":330,"v":18.5},{"w":13,"s":335,"v":16},{"w":13,"s":340,"v":19.5},{"w":13,"s":345,"v":16.5},{"w":13,"s":350,"v":18},{"w":13,"s":355,"v":15.8},{"w":13,"s":362,"v":17.5},{"w":13,"s":369,"v":15.5},{"w":13,"s":376,"v":16.5},{"w":13,"s":383,"v":15.4},{"w":13,"s":390,"v":17},{"w":13,"s":397,"v":15.5},{"w":13,"s":404,"v":16.5},{"w":13,"s":411,"v":15.2},{"w":13,"s":418,"v":15.8},{"w":13,"s":421,"v":15},{"w":13,"s":423,"v":11},{"w":13,"s":425,"v":15.5},{"w":13,"s":430,"v":16},{"w":13,"s":436,"v":15.5},{"w":13,"s":441,"v":15},{"w":13,"s":444,"v":8.5},{"w":13,"s":447,"v":15.5},{"w":13,"s":452,"v":19},{"w":13,"s":457,"v":23.5},{"w":13,"s":462,"v":18},{"w":13,"s":467,"v":21},{"w":13,"s":472,"v":23},{"w":13,"s":477,"v":17},{"w":13,"s":482,"v":20},{"w":13,"s":487,"v":22.5},{"w":13,"s":492,"v":18},{"w":13,"s":497,"v":15.2},
{"w":14,"s":0,"v":0},{"w":14,"s":2,"v":20},{"w":14,"s":6,"v":25},{"w":14,"s":10,"v":22.5},{"w":14,"s":14,"v":24.5},{"w":14,"s":19,"v":25},{"w":14,"s":24,"v":21.5},{"w":14,"s":29,"v":23.5},{"w":14,"s":34,"v":20.5},{"w":14,"s":39,"v":22.5},{"w":14,"s":44,"v":20},{"w":14,"s":49,"v":23},{"w":14,"s":54,"v":19.5},{"w":14,"s":59,"v":21.5},{"w":14,"s":64,"v":19},{"w":14,"s":69,"v":22},{"w":14,"s":74,"v":18.5},{"w":14,"s":79,"v":20.5},{"w":14,"s":84,"v":18},{"w":14,"s":89,"v":21},{"w":14,"s":94,"v":17.5},{"w":14,"s":99,"v":19.5},{"w":14,"s":104,"v":17},{"w":14,"s":109,"v":19},{"w":14,"s":114,"v":16.5},{"w":14,"s":119,"v":18},{"w":14,"s":124,"v":16},{"w":14,"s":129,"v":17.5},{"w":14,"s":134,"v":15.8},{"w":14,"s":139,"v":17},{"w":14,"s":144,"v":15.5},{"w":14,"s":150,"v":16.5},{"w":14,"s":156,"v":15.4},{"w":14,"s":162,"v":16},{"w":14,"s":168,"v":15.2},{"w":14,"s":171,"v":10},{"w":14,"s":174,"v":15.5},{"w":14,"s":178,"v":19},{"w":14,"s":183,"v":22},{"w":14,"s":188,"v":25.5},{"w":14,"s":193,"v":20},{"w":14,"s":198,"v":23},{"w":14,"s":203,"v":18},{"w":14,"s":208,"v":22},{"w":14,"s":213,"v":17.5},{"w":14,"s":218,"v":23.5},{"w":14,"s":223,"v":18.5},{"w":14,"s":228,"v":21},{"w":14,"s":233,"v":17},{"w":14,"s":238,"v":22},{"w":14,"s":243,"v":18},{"w":14,"s":248,"v":20.5},{"w":14,"s":253,"v":16.5},{"w":14,"s":258,"v":21},{"w":14,"s":263,"v":17.5},{"w":14,"s":268,"v":19.5},{"w":14,"s":273,"v":16},{"w":14,"s":278,"v":20},{"w":14,"s":283,"v":17},{"w":14,"s":288,"v":18.5},{"w":14,"s":293,"v":16},{"w":14,"s":298,"v":19.5},{"w":14,"s":303,"v":16.5},{"w":14,"s":308,"v":18},{"w":14,"s":313,"v":15.8},{"w":14,"s":318,"v":17.5},{"w":14,"s":323,"v":16},{"w":14,"s":328,"v":18.5},{"w":14,"s":333,"v":15.6},{"w":14,"s":338,"v":17},{"w":14,"s":343,"v":15.5},{"w":14,"s":348,"v":16.5},{"w":14,"s":355,"v":15.3},{"w":14,"s":362,"v":16.2},{"w":14,"s":369,"v":15.2},{"w":14,"s":376,"v":16},{"w":14,"s":382,"v":15.1},{"w":14,"s":386,"v":15},{"w":14,"s":388,"v":9.5},{"w":14,"s":390,"v":15.5},{"w":14,"s":393,"v":22},{"w":14,"s":396,"v":27},{"w":14,"s":400,"v":21},{"w":14,"s":405,"v":19},{"w":14,"s":410,"v":26},{"w":14,"s":415,"v":20},{"w":14,"s":420,"v":18},{"w":14,"s":425,"v":21.5},{"w":14,"s":430,"v":16.5},{"w":14,"s":435,"v":20},{"w":14,"s":440,"v":17},{"w":14,"s":445,"v":22},{"w":14,"s":450,"v":17.5},{"w":14,"s":455,"v":20},{"w":14,"s":460,"v":16},{"w":14,"s":465,"v":18.5},{"w":14,"s":470,"v":16.5},{"w":14,"s":475,"v":21},{"w":14,"s":480,"v":17},{"w":14,"s":485,"v":19},{"w":14,"s":490,"v":16},{"w":14,"s":495,"v":18},{"w":14,"s":498,"v":17},
{"w":15,"s":0,"v":0},{"w":15,"s":2,"v":20},{"w":15,"s":6,"v":22},{"w":15,"s":10,"v":21},{"w":15,"s":14,"v":23},{"w":15,"s":18,"v":21.5},{"w":15,"s":23,"v":23.5},{"w":15,"s":28,"v":22},{"w":15,"s":33,"v":23},{"w":15,"s":38,"v":21},{"w":15,"s":43,"v":22.5},{"w":15,"s":48,"v":20.5},{"w":15,"s":53,"v":22},{"w":15,"s":58,"v":19.5},{"w":15,"s":63,"v":21},{"w":15,"s":68,"v":18},{"w":15,"s":73,"v":19.5},{"w":15,"s":78,"v":17},{"w":15,"s":83,"v":16},{"w":15,"s":88,"v":17.5},{"w":15,"s":93,"v":15.5},{"w":15,"s":98,"v":16.5},{"w":15,"s":103,"v":15.3},{"w":15,"s":110,"v":16.2},{"w":15,"s":117,"v":15.5},{"w":15,"s":124,"v":16},{"w":15,"s":129,"v":15.2},{"w":15,"s":131,"v":7},{"w":15,"s":133,"v":15.3},{"w":15,"s":140,"v":16},{"w":15,"s":147,"v":15.4},{"w":15,"s":154,"v":16.2},{"w":15,"s":161,"v":15.5},{"w":15,"s":168,"v":15.8},{"w":15,"s":173,"v":15},{"w":15,"s":176,"v":9},{"w":15,"s":179,"v":15},{"w":15,"s":186,"v":15.4},{"w":15,"s":194,"v":15.2},{"w":15,"s":202,"v":15.5},{"w":15,"s":210,"v":15.1},{"w":15,"s":215,"v":15.3},{"w":15,"s":218,"v":21},{"w":15,"s":223,"v":23},{"w":15,"s":228,"v":19},{"w":15,"s":233,"v":21.5},{"w":15,"s":238,"v":17},{"w":15,"s":243,"v":20},{"w":15,"s":248,"v":18},{"w":15,"s":253,"v":22.5},{"w":15,"s":258,"v":18.5},{"w":15,"s":263,"v":21},{"w":15,"s":268,"v":17},{"w":15,"s":273,"v":19.5},{"w":15,"s":278,"v":16.5},{"w":15,"s":283,"v":20},{"w":15,"s":288,"v":17},{"w":15,"s":293,"v":19.5},{"w":15,"s":298,"v":16},{"w":15,"s":303,"v":18},{"w":15,"s":308,"v":16.5},{"w":15,"s":313,"v":19},{"w":15,"s":318,"v":16},{"w":15,"s":323,"v":17.5},{"w":15,"s":330,"v":15.5},{"w":15,"s":337,"v":16.5},{"w":15,"s":344,"v":15.4},{"w":15,"s":351,"v":16.2},{"w":15,"s":358,"v":15.3},{"w":15,"s":365,"v":16},{"w":15,"s":372,"v":15.2},{"w":15,"s":379,"v":15.8},{"w":15,"s":386,"v":15.2},{"w":15,"s":393,"v":15.5},{"w":15,"s":397,"v":15},{"w":15,"s":399,"v":6},{"w":15,"s":401,"v":15},{"w":15,"s":408,"v":15.3},{"w":15,"s":416,"v":15.1},{"w":15,"s":424,"v":15.4},{"w":15,"s":432,"v":15.2},{"w":15,"s":440,"v":15.5},{"w":15,"s":448,"v":15.1},{"w":15,"s":456,"v":15.4},{"w":15,"s":464,"v":15.2},{"w":15,"s":472,"v":15.3},{"w":15,"s":480,"v":15.1},{"w":15,"s":488,"v":15.4},{"w":15,"s":496,"v":15.2},
{"w":16,"s":0,"v":0},{"w":16,"s":2,"v":17},{"w":16,"s":6,"v":21},{"w":16,"s":10,"v":19.5},{"w":16,"s":14,"v":22},{"w":16,"s":18,"v":20.5},{"w":16,"s":22,"v":23.5},{"w":16,"s":26,"v":24.5},{"w":16,"s":30,"v":21},{"w":16,"s":34,"v":17.5},{"w":16,"s":38,"v":16},{"w":16,"s":43,"v":18},{"w":16,"s":48,"v":15.8},{"w":16,"s":53,"v":19},{"w":16,"s":58,"v":17.5},{"w":16,"s":63,"v":20.5},{"w":16,"s":68,"v":18},{"w":16,"s":73,"v":21},{"w":16,"s":78,"v":19.5},{"w":16,"s":83,"v":17},{"w":16,"s":88,"v":18.5},{"w":16,"s":93,"v":16.5},{"w":16,"s":98,"v":19},{"w":16,"s":103,"v":16},{"w":16,"s":108,"v":17.5},{"w":16,"s":113,"v":15.5},{"w":16,"s":120,"v":16.2},{"w":16,"s":127,"v":15.4},{"w":16,"s":134,"v":16},{"w":16,"s":141,"v":15.3},{"w":16,"s":148,"v":15.8},{"w":16,"s":155,"v":15.2},{"w":16,"s":160,"v":13},{"w":16,"s":163,"v":15.5},{"w":16,"s":166,"v":20},{"w":16,"s":170,"v":25.5},{"w":16,"s":174,"v":21},{"w":16,"s":178,"v":23},{"w":16,"s":183,"v":19},{"w":16,"s":188,"v":22.5},{"w":16,"s":193,"v":17.5},{"w":16,"s":198,"v":21},{"w":16,"s":203,"v":17},{"w":16,"s":208,"v":20.5},{"w":16,"s":213,"v":16.5},{"w":16,"s":218,"v":19.5},{"w":16,"s":223,"v":16},{"w":16,"s":228,"v":20},{"w":16,"s":233,"v":16.5},{"w":16,"s":238,"v":18.5},{"w":16,"s":243,"v":16},{"w":16,"s":248,"v":19},{"w":16,"s":253,"v":15.8},{"w":16,"s":258,"v":18},{"w":16,"s":263,"v":16},{"w":16,"s":268,"v":17.5},{"w":16,"s":273,"v":15.6},{"w":16,"s":278,"v":17},{"w":16,"s":283,"v":15.8},{"w":16,"s":288,"v":16.5},{"w":16,"s":295,"v":15.4},{"w":16,"s":302,"v":16.2},{"w":16,"s":309,"v":15.3},{"w":16,"s":316,"v":15.8},{"w":16,"s":324,"v":15.2},{"w":16,"s":332,"v":15.5},{"w":16,"s":340,"v":15.1},{"w":16,"s":348,"v":15.4},{"w":16,"s":356,"v":15.2},{"w":16,"s":364,"v":15.3},{"w":16,"s":372,"v":15.1},{"w":16,"s":380,"v":15.3},{"w":16,"s":388,"v":15},{"w":16,"s":396,"v":15.2},{"w":16,"s":404,"v":15},{"w":16,"s":412,"v":15.3},{"w":16,"s":420,"v":15.1},{"w":16,"s":428,"v":15.2},{"w":16,"s":436,"v":15},{"w":16,"s":440,"v":7.5},{"w":16,"s":443,"v":15},{"w":16,"s":448,"v":14.5},{"w":16,"s":451,"v":11.5},{"w":16,"s":454,"v":16},{"w":16,"s":458,"v":20},{"w":16,"s":462,"v":22},{"w":16,"s":466,"v":18},{"w":16,"s":470,"v":17},{"w":16,"s":474,"v":21.5},{"w":16,"s":478,"v":16.5},{"w":16,"s":482,"v":20},{"w":16,"s":486,"v":22.5},{"w":16,"s":490,"v":17},{"w":16,"s":494,"v":21},{"w":16,"s":498,"v":19},
{"w":17,"s":0,"v":0},{"w":17,"s":2,"v":22},{"w":17,"s":6,"v":25},{"w":17,"s":10,"v":28},{"w":17,"s":14,"v":25},{"w":17,"s":18,"v":27},{"w":17,"s":23,"v":24},{"w":17,"s":28,"v":26},{"w":17,"s":33,"v":22.5},{"w":17,"s":38,"v":24.5},{"w":17,"s":43,"v":21.5},{"w":17,"s":48,"v":23.5},{"w":17,"s":53,"v":20.5},{"w":17,"s":58,"v":22},{"w":17,"s":63,"v":19.5},{"w":17,"s":68,"v":21},{"w":17,"s":73,"v":18.5},{"w":17,"s":78,"v":20},{"w":17,"s":83,"v":17.5},{"w":17,"s":88,"v":19},{"w":17,"s":93,"v":17},{"w":17,"s":98,"v":18.5},{"w":17,"s":103,"v":16.5},{"w":17,"s":108,"v":17.8},{"w":17,"s":113,"v":16},{"w":17,"s":120,"v":17.5},{"w":17,"s":127,"v":15.8},{"w":17,"s":134,"v":16.8},{"w":17,"s":141,"v":15.6},{"w":17,"s":148,"v":16.5},{"w":17,"s":155,"v":15.5},{"w":17,"s":162,"v":16.2},{"w":17,"s":169,"v":15.4},{"w":17,"s":176,"v":16},{"w":17,"s":183,"v":15.5},{"w":17,"s":188,"v":15.3},{"w":17,"s":190,"v":10},{"w":17,"s":192,"v":15.3},{"w":17,"s":198,"v":15.8},{"w":17,"s":206,"v":15.4},{"w":17,"s":214,"v":16},{"w":17,"s":222,"v":15.3},{"w":17,"s":230,"v":15.7},{"w":17,"s":238,"v":15.2},{"w":17,"s":246,"v":15.5},{"w":17,"s":254,"v":15.1},{"w":17,"s":262,"v":15.4},{"w":17,"s":270,"v":15.2},{"w":17,"s":278,"v":15.5},{"w":17,"s":286,"v":15.1},{"w":17,"s":294,"v":15.3},{"w":17,"s":302,"v":15.1},{"w":17,"s":310,"v":15.4},{"w":17,"s":318,"v":15},{"w":17,"s":324,"v":15},{"w":17,"s":326,"v":12},{"w":17,"s":328,"v":15.5},{"w":17,"s":333,"v":17},{"w":17,"s":338,"v":19.5},{"w":17,"s":343,"v":18},{"w":17,"s":348,"v":21},{"w":17,"s":353,"v":25.5},{"w":17,"s":358,"v":20},{"w":17,"s":363,"v":22},{"w":17,"s":368,"v":18},{"w":17,"s":373,"v":20.5},{"w":17,"s":378,"v":17},{"w":17,"s":383,"v":19},{"w":17,"s":388,"v":16.5},{"w":17,"s":393,"v":18},{"w":17,"s":398,"v":16},{"w":17,"s":403,"v":17.5},{"w":17,"s":410,"v":15.6},{"w":17,"s":417,"v":16.5},{"w":17,"s":424,"v":15.4},{"w":17,"s":431,"v":16},{"w":17,"s":438,"v":15.3},{"w":17,"s":446,"v":15.7},{"w":17,"s":454,"v":15.2},{"w":17,"s":462,"v":15.5},{"w":17,"s":470,"v":15.1},{"w":17,"s":478,"v":15.3},{"w":17,"s":486,"v":15.1},{"w":17,"s":494,"v":15.2},
{"w":18,"s":0,"v":0},{"w":18,"s":2,"v":20},{"w":18,"s":6,"v":24},{"w":18,"s":10,"v":22},{"w":18,"s":14,"v":23.5},{"w":18,"s":19,"v":21},{"w":18,"s":24,"v":22.5},{"w":18,"s":29,"v":20},{"w":18,"s":34,"v":22},{"w":18,"s":39,"v":19.5},{"w":18,"s":44,"v":21},{"w":18,"s":49,"v":18.5},{"w":18,"s":54,"v":20.5},{"w":18,"s":59,"v":18},{"w":18,"s":64,"v":21},{"w":18,"s":69,"v":17.5},{"w":18,"s":74,"v":19},{"w":18,"s":79,"v":16.5},{"w":18,"s":84,"v":18},{"w":18,"s":89,"v":16},{"w":18,"s":94,"v":17.5},{"w":18,"s":99,"v":15.5},{"w":18,"s":106,"v":16.5},{"w":18,"s":113,"v":15.4},{"w":18,"s":120,"v":16.2},{"w":18,"s":127,"v":15.3},{"w":18,"s":134,"v":17},{"w":18,"s":141,"v":15.5},{"w":18,"s":148,"v":16.5},{"w":18,"s":155,"v":15.2},{"w":18,"s":162,"v":15.8},{"w":18,"s":169,"v":15.1},{"w":18,"s":176,"v":16.5},{"w":18,"s":183,"v":15.4},{"w":18,"s":190,"v":16},{"w":18,"s":197,"v":15.2},{"w":18,"s":204,"v":15.8},{"w":18,"s":211,"v":15.1},{"w":18,"s":218,"v":15.5},{"w":18,"s":225,"v":15.2},{"w":18,"s":232,"v":15.6},{"w":18,"s":239,"v":15.1},{"w":18,"s":246,"v":15.4},{"w":18,"s":252,"v":15.1},{"w":18,"s":258,"v":15.3},{"w":18,"s":261,"v":7},{"w":18,"s":264,"v":15},{"w":18,"s":267,"v":19},{"w":18,"s":272,"v":22},{"w":18,"s":277,"v":18},{"w":18,"s":282,"v":21.5},{"w":18,"s":287,"v":17},{"w":18,"s":292,"v":20.5},{"w":18,"s":297,"v":17.5},{"w":18,"s":302,"v":21},{"w":18,"s":307,"v":16.5},{"w":18,"s":312,"v":20},{"w":18,"s":317,"v":17},{"w":18,"s":322,"v":19.5},{"w":18,"s":327,"v":16},{"w":18,"s":332,"v":18.5},{"w":18,"s":337,"v":16.5},{"w":18,"s":342,"v":19},{"w":18,"s":347,"v":16},{"w":18,"s":352,"v":18},{"w":18,"s":357,"v":15.8},{"w":18,"s":362,"v":17.5},{"w":18,"s":367,"v":19},{"w":18,"s":372,"v":16.5},{"w":18,"s":377,"v":20.5},{"w":18,"s":382,"v":17.5},{"w":18,"s":387,"v":21},{"w":18,"s":392,"v":17},{"w":18,"s":397,"v":19.5},{"w":18,"s":402,"v":16},{"w":18,"s":407,"v":18.5},{"w":18,"s":412,"v":16.5},{"w":18,"s":417,"v":20},{"w":18,"s":422,"v":17},{"w":18,"s":427,"v":21},{"w":18,"s":432,"v":17.5},{"w":18,"s":437,"v":19.5},{"w":18,"s":442,"v":16.5},{"w":18,"s":447,"v":20},{"w":18,"s":452,"v":17},{"w":18,"s":457,"v":21.5},{"w":18,"s":462,"v":17.5},{"w":18,"s":467,"v":19},{"w":18,"s":472,"v":16.5},{"w":18,"s":477,"v":20.5},{"w":18,"s":482,"v":17},{"w":18,"s":487,"v":19.5},{"w":18,"s":492,"v":16.5},{"w":18,"s":497,"v":18.5},
{"w":19,"s":0,"v":0},{"w":19,"s":2,"v":21},{"w":19,"s":6,"v":24},{"w":19,"s":10,"v":25.5},{"w":19,"s":14,"v":23},{"w":19,"s":18,"v":24.5},{"w":19,"s":23,"v":22},{"w":19,"s":28,"v":23},{"w":19,"s":33,"v":20.5},{"w":19,"s":38,"v":22},{"w":19,"s":43,"v":19.5},{"w":19,"s":48,"v":21},{"w":19,"s":53,"v":18.5},{"w":19,"s":58,"v":20},{"w":19,"s":63,"v":18},{"w":19,"s":68,"v":19},{"w":19,"s":73,"v":17},{"w":19,"s":78,"v":18.5},{"w":19,"s":83,"v":16.5},{"w":19,"s":88,"v":18},{"w":19,"s":93,"v":16},{"w":19,"s":98,"v":17.5},{"w":19,"s":103,"v":15.8},{"w":19,"s":110,"v":16.8},{"w":19,"s":117,"v":15.5},{"w":19,"s":124,"v":16.5},{"w":19,"s":131,"v":15.4},{"w":19,"s":138,"v":16.2},{"w":19,"s":145,"v":15.3},{"w":19,"s":152,"v":16},{"w":19,"s":159,"v":15.2},{"w":19,"s":166,"v":15.8},{"w":19,"s":173,"v":15},{"w":19,"s":180,"v":15.5},{"w":19,"s":185,"v":15},{"w":19,"s":188,"v":11},{"w":19,"s":191,"v":14.5},{"w":19,"s":196,"v":16.5},{"w":19,"s":200,"v":12},{"w":19,"s":203,"v":15},{"w":19,"s":207,"v":9},{"w":19,"s":210,"v":14},{"w":19,"s":214,"v":17},{"w":19,"s":218,"v":7},{"w":19,"s":221,"v":15},{"w":19,"s":225,"v":18.5},{"w":19,"s":228,"v":10},{"w":19,"s":231,"v":16},{"w":19,"s":236,"v":20},{"w":19,"s":241,"v":17},{"w":19,"s":246,"v":21},{"w":19,"s":251,"v":18},{"w":19,"s":256,"v":22.5},{"w":19,"s":261,"v":19},{"w":19,"s":266,"v":24},{"w":19,"s":271,"v":19.5},{"w":19,"s":276,"v":21},{"w":19,"s":281,"v":17},{"w":19,"s":286,"v":20},{"w":19,"s":291,"v":16.5},{"w":19,"s":296,"v":19},{"w":19,"s":301,"v":17},{"w":19,"s":306,"v":18.5},{"w":19,"s":311,"v":16},{"w":19,"s":316,"v":19.5},{"w":19,"s":321,"v":16.5},{"w":19,"s":326,"v":18},{"w":19,"s":331,"v":16},{"w":19,"s":336,"v":19},{"w":19,"s":341,"v":16.5},{"w":19,"s":346,"v":18},{"w":19,"s":351,"v":15.8},{"w":19,"s":356,"v":17.5},{"w":19,"s":361,"v":16},{"w":19,"s":366,"v":18.5},{"w":19,"s":371,"v":16.5},{"w":19,"s":376,"v":17.5},{"w":19,"s":381,"v":15.8},{"w":19,"s":386,"v":17},{"w":19,"s":391,"v":16},{"w":19,"s":396,"v":18},{"w":19,"s":401,"v":16},{"w":19,"s":408,"v":16.8},{"w":19,"s":415,"v":15.5},{"w":19,"s":422,"v":16.2},{"w":19,"s":429,"v":15.4},{"w":19,"s":436,"v":16},{"w":19,"s":443,"v":15.3},{"w":19,"s":448,"v":15},{"w":19,"s":450,"v":12},{"w":19,"s":452,"v":15.5},{"w":19,"s":458,"v":15.8},{"w":19,"s":463,"v":15.3},{"w":19,"s":470,"v":15.6},{"w":19,"s":477,"v":15.2},{"w":19,"s":484,"v":15.5},{"w":19,"s":491,"v":15.2},{"w":19,"s":497,"v":15.3}
]},
"facet": {"field": "w", "type": "ordinal", "title": "step", "header": {"labels": false, "labelPadding": 0, "labelFontSize": 0, "labelExpr": "''", "titleOrient": "bottom", "titleFontSize": 22, "titleFontWeight": "normal", "titleColor": "#111111", "titleFont": "Liberation Sans", "titlePadding": 13}},
"columns": 5,
"spacing": {"row": 18, "column": 16},
"spec": {
"width": 158,
"height": 117,
"layer": [
{"transform": [{"filter": "datum.s === 0"}], "mark": {"type": "rect", "color": "#d7e2e9"}, "encoding": {"x": {"datum": -27, "type": "quantitative"}, "x2": {"datum": 524}, "y": {"datum": 32.5, "type": "quantitative"}, "y2": {"datum": 38}}},
{"transform": [{"filter": "datum.s === 0"}], "mark": {"type": "text", "fontSize": 11, "font": "Liberation Sans", "color": "#111111", "baseline": "middle"}, "encoding": {"x": {"datum": 250, "type": "quantitative"}, "y": {"datum": 35.2, "type": "quantitative"}, "text": {"field": "w"}}},
{"mark": {"type": "rule", "color": "#de5446", "strokeWidth": 1.2}, "encoding": {"y": {"datum": 15, "type": "quantitative"}}},
{"mark": {"type": "line", "color": "#1a476f", "strokeWidth": 1.6}, "encoding": {
"x": {"field": "s", "type": "quantitative", "scale": {"domain": [-24, 524], "nice": false, "zero": false}, "axis": {"values": [0, 500], "title": null, "grid": false, "labelFontSize": 12, "labelColor": "#222222", "tickSize": 5, "tickColor": "#8c9094", "domainColor": "#8c9094", "offset": 2, "labelPadding": 3, "labelFont": "Liberation Sans"}},
"y": {"field": "v", "type": "quantitative", "scale": {"domain": [-2.5, 38], "nice": false, "zero": false}, "axis": {"values": [0, 10, 20, 30], "title": null, "grid": true, "gridColor": "#e6edf1", "labelAngle": 270, "labelAlign": "center", "labelBaseline": "bottom", "labelFontSize": 11, "labelColor": "#222222", "tickSize": 5, "tickColor": "#8c9094", "domainColor": "#8c9094", "labelPadding": 3, "labelFont": "Liberation Sans"}}
}}
]
}
}]
}
